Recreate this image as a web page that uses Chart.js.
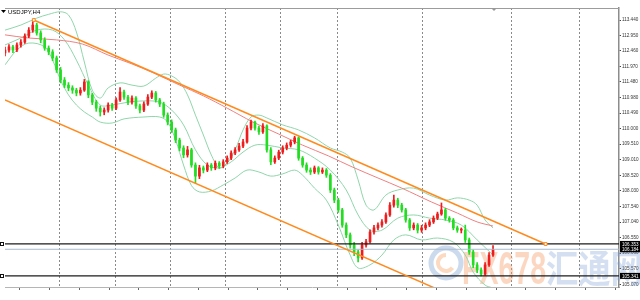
<!DOCTYPE html>
<html lang="en">
<head>
<meta charset="UTF-8" />
<title>USDJPY,H4</title>
<script src="https://cdn.jsdelivr.net/npm/chart.js@4.4.0"></script>
<style>
  html, body { margin: 0; padding: 0; background: #fff; }
  .chart-container { width: 640px; height: 300px; }
  canvas { display: block; }
</style>
</head>
<body>
<div class="chart-container"><canvas id="fxChart" width="640" height="300"></canvas></div>
<script>
// H4 candles, one per bar index
const opens = [
  112.40, 112.49, 112.59, 112.49, 112.65, 112.74, 112.93, 113.12, 113.28, 113.03,
  112.81, 112.55, 112.43, 112.24, 111.86, 111.54, 111.38, 111.29, 111.22, 111.13,
  111.22, 111.48, 111.07, 110.84, 110.65, 110.53, 110.59, 110.75, 110.65, 110.91,
  111.16, 111.00, 110.84, 110.97, 110.72, 110.59, 110.78, 111.00, 111.13, 110.91,
  110.78, 110.43, 110.21, 109.96, 109.64, 109.39, 109.17, 109.33, 108.85, 108.50,
  108.76, 108.69, 108.85, 108.76, 108.91, 108.82, 108.95, 109.07, 109.23, 109.33,
  109.45, 109.58, 110.02, 110.21, 110.02, 109.90, 110.09, 109.33, 108.95, 109.07,
  109.26, 109.39, 109.48, 109.58, 109.71, 109.07, 108.85, 108.69, 108.63, 108.76,
  108.63, 108.69, 108.53, 108.06, 107.74, 107.43, 106.95, 106.64, 106.32, 106.10,
  105.91, 106.32, 106.42, 106.73, 106.86, 106.95, 107.05, 107.27, 107.58, 107.74,
  107.58, 107.43, 107.11, 106.86, 106.95, 106.79, 106.86, 106.95, 107.05, 107.17,
  107.30, 107.43, 107.17, 107.11, 106.86, 106.79, 106.79, 106.48, 106.10, 105.69,
  105.53, 105.40, 105.69, 106.00
];
const highs = [
  112.58, 112.66, 112.64, 112.72, 112.82, 113.00, 113.20, 113.44, 113.34, 113.10,
  112.88, 112.62, 112.50, 112.30, 111.94, 111.62, 111.46, 111.36, 111.28, 111.30,
  111.56, 111.52, 111.12, 110.90, 110.72, 110.66, 110.82, 110.80, 110.98, 111.30,
  111.22, 111.06, 111.04, 111.02, 110.78, 110.85, 111.08, 111.20, 111.18, 110.96,
  110.84, 110.50, 110.28, 110.02, 109.70, 109.46, 109.44, 109.38, 108.92, 108.84,
  108.82, 108.92, 108.90, 108.98, 108.96, 109.02, 109.14, 109.30, 109.40, 109.54,
  109.66, 110.10, 110.27, 110.24, 110.08, 110.16, 110.12, 109.40, 109.14, 109.32,
  109.46, 109.55, 109.64, 109.76, 109.74, 109.12, 108.92, 108.76, 108.82, 108.80,
  108.76, 108.74, 108.58, 108.12, 107.80, 107.48, 107.02, 106.70, 106.40, 106.16,
  106.40, 106.50, 106.80, 106.94, 107.02, 107.12, 107.34, 107.66, 107.90, 107.80,
  107.64, 107.48, 107.16, 107.02, 107.00, 106.94, 107.02, 107.12, 107.24, 107.36,
  107.65, 107.48, 107.22, 107.16, 106.92, 106.86, 106.95, 106.54, 106.16, 105.76,
  105.60, 105.76, 106.08, 106.30
];
const lows = [
  112.30, 112.42, 112.41, 112.44, 112.58, 112.70, 112.88, 113.05, 112.96, 112.72,
  112.48, 112.34, 112.15, 111.78, 111.45, 111.30, 111.20, 111.12, 111.04, 111.06,
  111.18, 110.98, 110.76, 110.55, 110.40, 110.44, 110.52, 110.58, 110.60, 110.86,
  110.93, 110.76, 110.78, 110.64, 110.50, 110.54, 110.74, 110.95, 110.84, 110.70,
  110.36, 110.12, 109.88, 109.56, 109.30, 109.08, 109.10, 108.78, 108.28, 108.42,
  108.60, 108.64, 108.68, 108.70, 108.74, 108.76, 108.90, 109.02, 109.18, 109.28,
  109.40, 109.54, 109.96, 109.95, 109.82, 109.85, 109.26, 108.86, 108.90, 109.02,
  109.20, 109.33, 109.42, 109.52, 109.00, 108.78, 108.62, 108.55, 108.58, 108.56,
  108.58, 108.46, 107.98, 107.66, 107.35, 106.88, 106.55, 106.22, 105.98, 105.78,
  105.86, 106.25, 106.38, 106.66, 106.80, 106.88, 107.00, 107.22, 107.52, 107.50,
  107.36, 107.04, 106.78, 106.80, 106.70, 106.72, 106.80, 106.90, 107.00, 107.12,
  107.26, 107.10, 107.04, 106.80, 106.72, 106.70, 106.40, 106.02, 105.60, 105.44,
  105.34, 105.36, 105.64, 105.96
];
const closes = [
  112.49, 112.59, 112.49, 112.65, 112.74, 112.93, 113.12, 113.28, 113.03, 112.81,
  112.55, 112.43, 112.24, 111.86, 111.54, 111.38, 111.29, 111.22, 111.13, 111.22,
  111.48, 111.07, 110.84, 110.65, 110.53, 110.59, 110.75, 110.65, 110.91, 111.16,
  111.00, 110.84, 110.97, 110.72, 110.59, 110.78, 111.00, 111.13, 110.91, 110.78,
  110.43, 110.21, 109.96, 109.64, 109.39, 109.17, 109.33, 108.85, 108.50, 108.76,
  108.69, 108.85, 108.76, 108.91, 108.82, 108.95, 109.07, 109.23, 109.33, 109.45,
  109.58, 110.02, 110.21, 110.02, 109.90, 110.09, 109.33, 108.95, 109.07, 109.26,
  109.39, 109.48, 109.58, 109.71, 109.07, 108.85, 108.69, 108.63, 108.76, 108.63,
  108.69, 108.53, 108.06, 107.74, 107.43, 106.95, 106.64, 106.32, 106.10, 105.91,
  106.32, 106.42, 106.73, 106.86, 106.95, 107.05, 107.27, 107.58, 107.74, 107.58,
  107.43, 107.11, 106.86, 106.95, 106.79, 106.86, 106.95, 107.05, 107.17, 107.30,
  107.43, 107.17, 107.11, 106.86, 106.79, 106.79, 106.48, 106.10, 105.69, 105.53,
  105.40, 105.69, 106.00, 106.18
];

// indicator lines, [bar, price]
const bbUpper = [
  [0,113.12],[4,113.28],[8,113.50],[11,113.62],[14,113.70],[16,113.60],[18,113.06],[20,112.11],
  [22,111.22],[24,110.97],[26,111.29],[29,111.45],[32,111.38],[35,111.35],[38,111.60],[40,111.73],
  [42,111.67],[44,111.48],[46,111.07],[48,110.43],[50,109.80],[52,109.17],[54,108.76],[56,108.91],
  [58,109.33],[60,109.96],[62,110.37],[64,110.43],[66,110.34],[70,110.12],[74,109.96],[78,109.71],
  [82,109.39],[85,109.26],[87,109.07],[89,108.38],[91,107.58],[93,107.43],[96,107.90],[99,108.06],
  [103,108.12],[107,107.90],[111,107.74],[114,107.81],[117,107.74],[119,107.58],[121,107.11],[123,106.86]
];
const bbMiddle = [
  [0,112.65],[4,112.87],[8,113.12],[12,113.12],[15,112.81],[18,112.17],[21,111.38],[24,110.75],
  [27,110.75],[31,110.84],[35,110.88],[39,110.84],[42,110.59],[45,110.12],[48,109.33],[51,108.85],
  [54,108.76],[57,108.95],[60,109.26],[63,109.48],[66,109.48],[70,109.39],[74,109.33],[78,109.07],
  [82,108.69],[86,108.06],[89,107.27],[92,106.79],[95,106.79],[99,107.17],[103,107.27],[107,107.17],
  [111,107.11],[115,106.95],[119,106.48],[123,106.00]
];
const bbLower = [
  [0,112.02],[3,112.49],[6,112.71],[10,112.59],[12,112.17],[14,111.54],[16,111.07],[18,110.75],
  [20,110.53],[22,110.37],[24,110.21],[27,110.18],[30,110.31],[35,110.37],[39,110.37],[41,110.21],
  [43,109.64],[45,108.85],[47,108.20],[49,108.00],[52,108.03],[55,108.22],[58,108.44],[61,108.69],
  [64,108.63],[67,108.50],[70,108.57],[73,108.69],[75,108.53],[78,108.12],[81,107.74],[84,106.95],
  [87,106.00],[89,105.59],[92,105.69],[95,106.00],[98,106.48],[101,106.64],[105,106.48],[109,106.54],
  [113,106.41],[116,106.00],[118,105.46],[121,105.05],[123,104.96]
];
const slowMA = [
  [0,112.97],[6,112.87],[13,112.81],[19.5,112.68],[26,112.33],[32,112.05],[37.5,111.76],[44,111.38],
  [50,111.04],[56,110.65],[62.5,110.21],[69,109.83],[75,109.48],[81.5,109.14],[87.5,108.79],[94,108.44],
  [100,108.12],[107.5,107.68],[114,107.33],[119,107.05],[123,106.92]
];

// channel and levels
const channelTop = [[7.25,113.44],[136.25,106.35]];
const channelBottom = [[0,110.91],[136.25,103.42]];
const levels = [106.353, 105.341];
const bidPrice = 106.184;

// axes
const yTicks = [113.44, 112.95, 112.46, 111.97, 111.48, 110.98, 110.49, 110.00, 109.51,
  109.01, 108.52, 108.03, 107.54, 107.04, 106.55, 106.06, 105.57, 105.07];
const gridBars = [6.75, 20.75, 34.75, 48.75, 62.5, 76.5, 91, 119.25, 136.25];
const timeTicks = [7.5, 15, 22.5, 30, 37.5, 45, 52.5, 60, 67.5, 75, 82.5, 90, 97.5, 105,
  112.5, 120, 127.5, 135, 142.5, 150];
const X_MAX = 154.75;

const UP = '#ee1c1c';
const DOWN = '#22dd22';
const candleColor = ctx => closes[ctx.dataIndex] >= opens[ctx.dataIndex] ? UP : DOWN;
const toPts = arr => arr.map(p => ({ x: p[0], y: p[1] }));

function lineSet(points, color, width, extra) {
  return Object.assign({
    type: 'line',
    data: toPts(points),
    borderColor: color,
    borderWidth: width,
    pointRadius: 0,
    fill: false,
    tension: 0.35
  }, extra || {});
}

const decor = {
  id: 'decor',
  beforeDatasetsDraw(chart) {
    const { ctx } = chart;
    ctx.save();
    // FX678 watermark
    ctx.lineWidth = 5;
    ctx.strokeStyle = 'rgba(110,150,205,0.35)';
    ctx.beginPath(); ctx.arc(446, 263, 15, 0, Math.PI * 2); ctx.stroke();
    ctx.strokeStyle = 'rgba(245,150,80,0.35)';
    ctx.lineWidth = 4;
    ctx.beginPath(); ctx.arc(446, 263, 8, Math.PI * 0.2, Math.PI * 1.5); ctx.stroke();
    ctx.fillStyle = 'rgba(245,160,110,0.42)';
    ctx.font = 'bold 46px "Liberation Sans"';
    ctx.translate(462, 284);
    ctx.scale(0.62, 1);
    ctx.fillText('FX678', 0, 0);
    ctx.restore();
    ctx.save();
    ctx.fillStyle = 'rgba(120,160,210,0.32)';
    ctx.font = 'bold 38px "Noto Sans CJK SC"';
    ctx.translate(546, 282);
    ctx.scale(0.85, 1);
    ctx.fillText('汇通网', 0, 0);
    ctx.restore();
  },
  afterDraw(chart) {
    const { ctx, chartArea: a, scales } = chart;
    const y = scales.y;
    ctx.save();
    ctx.strokeStyle = '#9c9c9c';
    ctx.lineWidth = 1;
    ctx.beginPath();
    ctx.moveTo(a.left, a.top + 0.5); ctx.lineTo(a.right, a.top + 0.5);
    ctx.stroke();
    // shift marker
    ctx.fillStyle = '#999';
    ctx.beginPath(); ctx.moveTo(491, a.top); ctx.lineTo(497, a.top); ctx.lineTo(494, a.top + 3); ctx.fill();
    // symbol caption
    ctx.fillStyle = '#000';
    ctx.beginPath(); ctx.moveTo(1, 10); ctx.lineTo(6, 10); ctx.lineTo(3.5, 13); ctx.fill();
    ctx.font = '6px "Liberation Sans"';
    ctx.textBaseline = 'middle';
    ctx.fillText('USDJPY,H4', 8, 12);
    // left anchors of level lines
    ctx.strokeStyle = '#111';
    levels.forEach(v => {
      const py = Math.round(y.getPixelForValue(v));
      ctx.strokeRect(0.5, py - 1.5, 3, 3);
    });
    // price boxes on the axis
    ctx.font = '4.6px "Liberation Sans"';
    [levels[0], bidPrice, levels[1]].forEach(v => {
      const py = y.getPixelForValue(v);
      ctx.fillStyle = '#000';
      ctx.fillRect(a.right + 1, py - 3, 21, 6);
      ctx.fillStyle = '#fff';
      ctx.fillText(v.toFixed(3), a.right + 3, py + 0.5);
    });
    ctx.restore();
  }
};

const chart = new Chart(document.getElementById('fxChart'), {
  type: 'bar',
  data: {
    datasets: [
      lineSet(bbUpper, '#8fd6aa', 1, { order: 6 }),
      lineSet(bbMiddle, '#8fd6aa', 1, { order: 6 }),
      lineSet(bbLower, '#8fd6aa', 1, { order: 6 }),
      lineSet(slowMA, '#f08080', 1, { order: 5 }),
      {
        type: 'bar',
        data: opens.map((o, i) => ({ x: i, y: [lows[i], highs[i]] })),
        backgroundColor: candleColor,
        barThickness: 1,
        grouped: false,
        order: 4
      },
      {
        type: 'bar',
        data: opens.map((o, i) => ({ x: i, y: [o, closes[i]] })),
        backgroundColor: candleColor,
        barThickness: 2,
        minBarLength: 1,
        grouped: false,
        order: 3
      },
      lineSet(channelTop, '#ff8a1e', 1.5, {
        tension: 0, order: 1, pointRadius: [2, 2], pointStyle: 'rect',
        pointBackgroundColor: '#fff', pointBorderColor: '#ff8a1e', pointBorderWidth: 1
      }),
      lineSet(channelBottom, '#ff8a1e', 1.5, { tension: 0, order: 1 }),
      lineSet([[0, levels[0]], [X_MAX, levels[0]]], '#1c1c1c', 1.3, { tension: 0, order: 2 }),
      lineSet([[0, levels[1]], [X_MAX, levels[1]]], '#1c1c1c', 1.3, { tension: 0, order: 2 }),
      lineSet([[0, bidPrice], [X_MAX, bidPrice]], '#a8bccf', 1, { tension: 0, order: 2 })
    ]
  },
  options: {
    responsive: false,
    maintainAspectRatio: false,
    animation: false,
    devicePixelRatio: 1,
    layout: { padding: { top: 8, left: 0, right: 0, bottom: 0 } },
    plugins: { legend: { display: false }, tooltip: { enabled: false } },
    scales: {
      x: {
        type: 'linear', min: 0, max: X_MAX, offset: false,
        afterBuildTicks: s => { s.ticks = gridBars.map(v => ({ value: v })); },
        afterFit: s => { s.height = 0; },
        ticks: { display: false },
        grid: { color: '#8a8a8a', drawTicks: false, lineWidth: 1 },
        border: { display: false, dash: [2, 2] }
      },
      xb: {
        type: 'linear', position: 'bottom', min: 0, max: X_MAX, offset: false,
        afterBuildTicks: s => { s.ticks = timeTicks.map(v => ({ value: v })); },
        afterFit: s => { s.height = 13; },
        ticks: { callback: () => '', font: { size: 1 } },
        grid: { drawOnChartArea: false, tickLength: 3, color: '#666' },
        border: { color: '#b5b5b5' }
      },
      y: {
        position: 'right', min: 104.99, max: 113.82,
        afterBuildTicks: s => { s.ticks = yTicks.map(v => ({ value: v })); },
        afterFit: s => { s.width = 21; },
        ticks: {
          color: '#333', padding: 1,
          font: { size: 4.6, family: '"Liberation Sans"' },
          callback: v => Number(v).toFixed(3)
        },
        grid: { drawOnChartArea: false, tickLength: 2, color: '#444' },
        border: { color: '#8c8c8c', width: 1.5 }
      }
    }
  },
  plugins: [decor]
});
</script>
</body>
</html>
